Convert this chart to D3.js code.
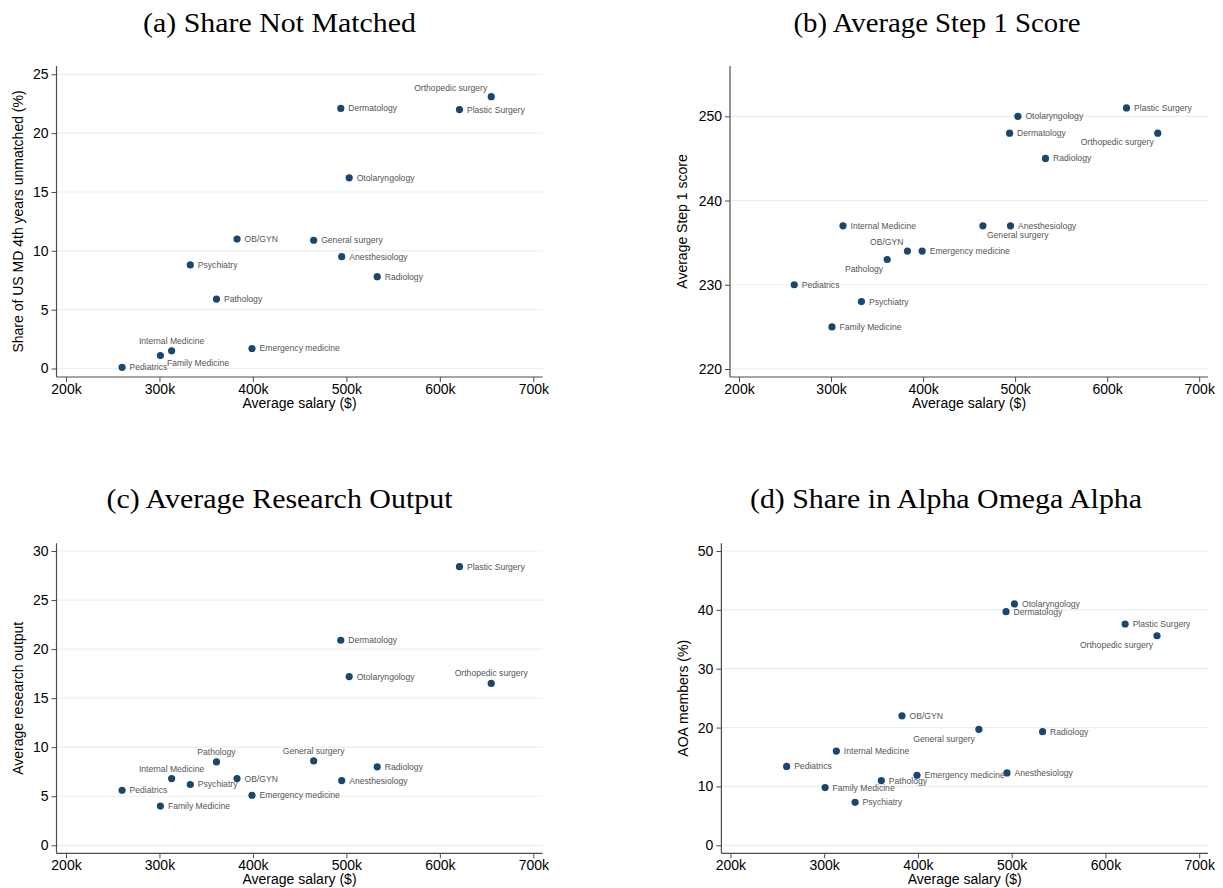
<!DOCTYPE html>
<html>
<head>
<meta charset="utf-8">
<script src="https://cdn.jsdelivr.net/npm/d3@7"></script>
<style>
  html, body { margin: 0; padding: 0; background: #fff; }
  svg { display: block; }
</style>
</head>
<body>
<svg id="chart" width="1223" height="888"></svg>
<script>
// ---------------- DATA ----------------
const specialties = ["Pediatrics", "Family Medicine", "Internal Medicine", "Psychiatry", "Pathology",
  "OB/GYN", "Emergency medicine", "General surgery", "Dermatology", "Anesthesiology",
  "Otolaryngology", "Radiology", "Plastic Surgery", "Orthopedic surgery"];
const salary = [260000, 301000, 313000, 333000, 361000, 383000, 399000, 465000, 494000, 495000, 503000, 533000, 621000, 655000];
const shareUnmatched = [0.1, 1.1, 1.5, 8.8, 5.9, 11.0, 1.7, 10.9, 22.1, 9.5, 16.2, 7.8, 22.0, 23.1];
const step1Score = [230, 225, 237, 228, 233, 234, 234, 237, 248, 237, 250, 245, 251, 248];
const researchOutput = [5.6, 4.0, 6.8, 6.2, 8.5, 6.8, 5.1, 8.6, 20.9, 6.6, 17.2, 8.0, 28.4, 16.5];
const aoaShare = [13.4, 9.8, 16.0, 7.3, 11.0, 22.0, 11.9, 19.7, 39.7, 12.3, 41.0, 19.3, 37.6, 35.6];

const xTicks = [200000, 300000, 400000, 500000, 600000, 700000];
const yTicksA = [0, 5, 10, 15, 20, 25];
const yTicksB = [220, 230, 240, 250];
const yTicksC = [0, 5, 10, 15, 20, 25, 30];
const yTicksD = [0, 10, 20, 30, 40, 50];

// ---------------- LAYOUT / STYLE ----------------
const panels = [
  { title: "(a) Share Not Matched", titleX: 279.5, titleY: 32, titleLen: 273,
    values: shareUnmatched, yTicks: yTicksA, yLabel: "Share of US MD 4th years unmatched (%)",
    left: 56.5, right: 542.5, top: 66, bottom: 377, x0px: 66, x1px: 533.3,
    y0px: 368.5, y1px: 74.3, yTitleX: 18,
    labelPos: { "Family Medicine": 4, "Internal Medicine": 12, "Orthopedic surgery": 11 } },
  { title: "(b) Average Step 1 Score", titleX: 937, titleY: 32, titleLen: 287,
    values: step1Score, yTicks: yTicksB, yLabel: "Average Step 1 score",
    left: 730, right: 1208, top: 66, bottom: 377, x0px: 739, x1px: 1199.2,
    y0px: 369, y1px: 116.3, yTitleX: 682,
    labelPos: { "Orthopedic surgery": 7, "General surgery": 5, "OB/GYN": 11, "Pathology": 7 } },
  { title: "(c) Average Research Output", titleX: 279.5, titleY: 508.3, titleLen: 346,
    values: researchOutput, yTicks: yTicksC, yLabel: "Average research output",
    left: 56.5, right: 542.5, top: 543.3, bottom: 853.3, x0px: 66, x1px: 533.3,
    y0px: 845.3, y1px: 551, yTitleX: 18,
    labelPos: { "Orthopedic surgery": 12, "Pathology": 12, "General surgery": 12, "Internal Medicine": 12 } },
  { title: "(d) Share in Alpha Omega Alpha", titleX: 946, titleY: 508.3, titleLen: 392,
    values: aoaShare, yTicks: yTicksD, yLabel: "AOA members (%)",
    left: 721.4, right: 1208, top: 543.3, bottom: 853.3, x0px: 730.4, x1px: 1199.2,
    y0px: 845.3, y1px: 551, yTitleX: 683,
    labelPos: { "Orthopedic surgery": 7, "General surgery": 7 } }
];

const clock = {
  3:  { dx: 7.5, dy: 0,   anchor: "start" },
  4:  { dx: 6.5, dy: 7,   anchor: "start" },
  5:  { dx: 4,   dy: 9.3, anchor: "start" },
  7:  { dx: -4,  dy: 9.3, anchor: "end" },
  11: { dx: -4,  dy: -9,  anchor: "end" },
  12: { dx: 0,   dy: -10, anchor: "middle" }
};

const markerColor = "#1a476f";
const gridColor = "#e6eff1";
const axisColor = "#4d4d4d";
const sansFont = "'Liberation Sans', Arial, Helvetica, sans-serif";
const serifFont = "'Liberation Serif', 'Times New Roman', serif";

const svg = d3.select("#chart");
svg.append("rect").attr("width", 1223).attr("height", 888).attr("fill", "#fff");

panels.forEach(p => {
  const g = svg.append("g");
  const x = d3.scaleLinear().domain([xTicks[0], xTicks[xTicks.length - 1]]).range([p.x0px, p.x1px]);
  const yt = p.yTicks;
  const y = d3.scaleLinear().domain([yt[0], yt[yt.length - 1]]).range([p.y0px, p.y1px]);

  // title
  g.append("text")
    .attr("x", p.titleX).attr("y", p.titleY)
    .attr("text-anchor", "middle")
    .attr("font-family", serifFont).attr("font-size", 27)
    .attr("textLength", p.titleLen).attr("lengthAdjust", "spacingAndGlyphs")
    .attr("fill", "#000")
    .text(p.title);

  // grid lines
  g.append("g").selectAll("line").data(yt).join("line")
    .attr("x1", p.left).attr("x2", p.right)
    .attr("y1", d => y(d)).attr("y2", d => y(d))
    .attr("stroke", gridColor).attr("stroke-width", 1.2);

  // x axis
  const xAxis = d3.axisBottom(x).tickValues(xTicks).tickSize(5).tickPadding(2)
    .tickFormat(d => (d / 1000) + "k");
  const gx = g.append("g").attr("transform", `translate(0,${p.bottom})`).call(xAxis);
  gx.select(".domain").remove();
  gx.selectAll(".tick line").attr("stroke", axisColor);
  gx.selectAll(".tick text").attr("font-family", sansFont).attr("font-size", 14).attr("fill", "#000");
  g.append("line").attr("x1", p.left).attr("x2", p.right).attr("y1", p.bottom).attr("y2", p.bottom)
    .attr("stroke", axisColor).attr("stroke-width", 1.2);

  // y axis
  const yAxis = d3.axisLeft(y).tickValues(yt).tickSize(5).tickPadding(3).tickFormat(d3.format("d"));
  const gy = g.append("g").attr("transform", `translate(${p.left},0)`).call(yAxis);
  gy.select(".domain").remove();
  gy.selectAll(".tick line").attr("stroke", axisColor);
  gy.selectAll(".tick text").attr("font-family", sansFont).attr("font-size", 14).attr("fill", "#000");
  g.append("line").attr("x1", p.left).attr("x2", p.left).attr("y1", p.top).attr("y2", p.bottom)
    .attr("stroke", axisColor).attr("stroke-width", 1.2);

  // axis titles
  g.append("text")
    .attr("x", (p.left + p.right) / 2).attr("y", p.bottom + 30.5)
    .attr("text-anchor", "middle")
    .attr("font-family", sansFont).attr("font-size", 14).attr("fill", "#000")
    .text("Average salary ($)");
  g.append("text")
    .attr("transform", `translate(${p.yTitleX},${(p.top + p.bottom) / 2}) rotate(-90)`)
    .attr("text-anchor", "middle").attr("dominant-baseline", "central")
    .attr("font-family", sansFont).attr("font-size", 14).attr("fill", "#000")
    .text(p.yLabel);

  // points & labels
  const rows = specialties.map((name, i) => ({ name, sx: salary[i], v: p.values[i] }));
  g.append("g").selectAll("circle").data(rows).join("circle")
    .attr("cx", d => x(d.sx)).attr("cy", d => y(d.v)).attr("r", 3.6)
    .attr("fill", markerColor);
  g.append("g").selectAll("text").data(rows).join("text")
    .each(function (d) {
      const c = clock[p.labelPos[d.name] || 3];
      d3.select(this)
        .attr("x", x(d.sx) + c.dx).attr("y", y(d.v) + c.dy)
        .attr("text-anchor", c.anchor).attr("dominant-baseline", "central");
    })
    .attr("font-family", sansFont).attr("font-size", 8.6).attr("fill", "#555")
    .text(d => d.name);
});
</script>
</body>
</html>
